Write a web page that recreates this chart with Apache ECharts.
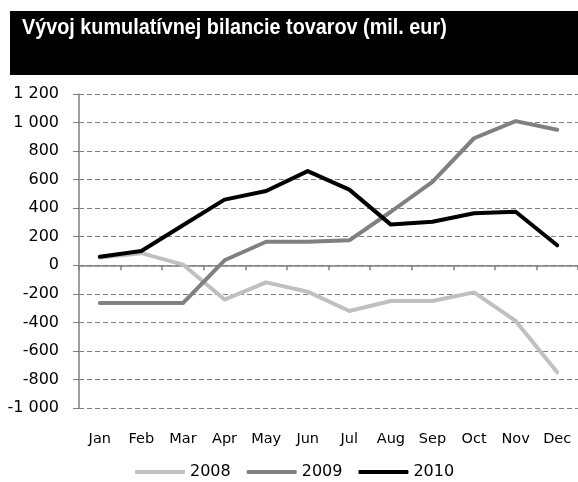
<!DOCTYPE html>
<html>
<head>
<meta charset="utf-8">
<script src="https://cdn.jsdelivr.net/npm/echarts@6/dist/echarts.min.js"></script>
<style>
  html, body { margin: 0; padding: 0; background: #fff; }
  #chart { width: 578px; height: 482px; }
</style>
</head>
<body>
<div id="chart"></div>
<script>
const titleText = 'Vývoj kumulatívnej bilancie tovarov (mil. eur)'
const months = ['Jan', 'Feb', 'Mar', 'Apr', 'May', 'Jun', 'Jul', 'Aug', 'Sep', 'Oct', 'Nov', 'Dec']
const seriesNames = ['2008', '2009', '2010']
const values2008 = [55, 85, 5, -240, -120, -185, -320, -250, -250, -190, -390, -750]
const values2009 = [-265, -265, -265, 35, 165, 165, 175, 375, 585, 890, 1010, 950]
const values2010 = [60, 100, 280, 460, 520, 660, 530, 285, 305, 365, 375, 140]
const yMin = -1000
const yMax = 1200
const yStep = 200

const colors = ['#c0c0c0', '#808080', '#000000']
const font = 'DejaVu Sans'

// 1200 -> "1 200"
const formatNum = v => {
  const s = String(Math.abs(v)).replace(/\B(?=(\d{3})+(?!\d))/g, ' ')
  return (v < 0 ? '-' : '') + s
}

const chart = echarts.init(document.getElementById('chart'))

const makeLine = (name, data, color) => ({
  name: name,
  type: 'line',
  data: data,
  xAxisIndex: 0,
  symbol: 'none',
  lineStyle: { color: color, width: 4, cap: 'round', join: 'round' },
  itemStyle: { color: color },
  emphasis: { disabled: true }
})

const option = {
  animation: false,
  backgroundColor: '#fff',
  graphic: [
    {
      type: 'rect',
      shape: { x: 10, y: 11, width: 568, height: 64 },
      style: { fill: '#000' }
    },
    {
      type: 'text',
      x: 22,
      y: 17,
      scaleX: 0.9,
      style: {
        text: titleText,
        fill: '#fff',
        font: 'bold 22px "Liberation Sans", Arial, sans-serif'
      }
    }
  ],
  grid: {
    left: 79,
    right: 0,
    top: 94,
    bottom: 74
  },
  legend: {
    top: 459,
    left: 130,
    itemWidth: 50,
    itemHeight: 4,
    itemGap: 16,
    icon: 'roundRect',
    textStyle: { fontFamily: font, fontSize: 16, color: '#000' },
    data: seriesNames
  },
  xAxis: [
    {
      // axis line on the zero value, with boundary ticks
      type: 'category',
      data: months,
      boundaryGap: true,
      axisLine: { onZero: true, lineStyle: { color: '#808080', width: 1.5 } },
      axisTick: { show: true, length: 5, lineStyle: { color: '#808080', width: 1.5 } },
      axisLabel: { show: false },
      splitLine: { show: false }
    },
    {
      // month labels at the bottom of the plot
      type: 'category',
      data: months,
      position: 'bottom',
      boundaryGap: true,
      axisLine: { show: false, onZero: false },
      axisTick: { show: false },
      axisLabel: { margin: 24, fontFamily: font, fontSize: 14.5, color: '#000' },
      splitLine: { show: false }
    }
  ],
  yAxis: {
    type: 'value',
    min: yMin,
    max: yMax,
    interval: yStep,
    axisLine: { show: true, lineStyle: { color: '#808080', width: 1.5 } },
    axisTick: { show: true, length: 6, lineStyle: { color: '#808080' } },
    axisLabel: { margin: 20, fontFamily: font, fontSize: 16, color: '#000', formatter: formatNum },
    splitLine: { show: true, lineStyle: { color: '#808080', type: [5, 3], width: 1 } }
  },
  series: [
    makeLine(seriesNames[0], values2008, colors[0]),
    makeLine(seriesNames[1], values2009, colors[1]),
    makeLine(seriesNames[2], values2010, colors[2])
  ]
}

chart.setOption(option)
</script>
</body>
</html>
